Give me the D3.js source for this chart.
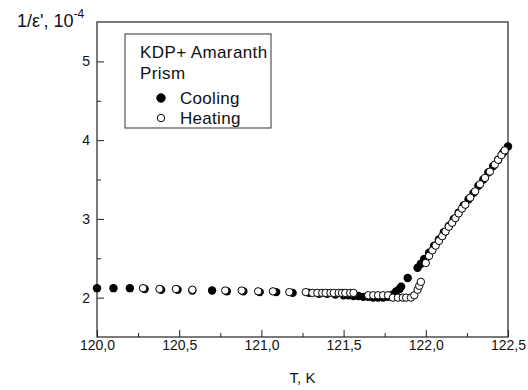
<!DOCTYPE html>
<html>
<head>
<meta charset="utf-8">
<script src="https://cdnjs.cloudflare.com/ajax/libs/d3/7.8.5/d3.min.js"></script>
<style>
  body { margin: 0; background: #fff; }
  svg { font-family: Arial, "Liberation Sans", sans-serif; }
</style>
</head>
<body>
<svg id="chart" width="528" height="390"></svg>
<script>
// cooling run (filled circles), T in K, 1/eps' in 1e-4
const coolT = [120.00, 120.10, 120.20, 120.29, 120.39, 120.49, 120.58, 120.70, 120.79, 120.89,
  120.99, 121.09, 121.19, 121.29, 121.35, 121.40, 121.45, 121.50, 121.53, 121.56,
  121.59, 121.62, 121.65, 121.68, 121.71, 121.74, 121.77, 121.80, 121.82, 121.84,
  121.85, 121.89, 121.95, 121.97, 121.99, 122.02, 122.05, 122.08, 122.11, 122.14,
  122.17, 122.20, 122.23, 122.26, 122.29, 122.32, 122.35, 122.38, 122.41, 122.44,
  122.47, 122.50];
const coolV = [2.12, 2.12, 2.12, 2.11, 2.10, 2.10, 2.09, 2.09, 2.08, 2.08,
  2.07, 2.07, 2.06, 2.06, 2.05, 2.05, 2.04, 2.03, 2.03, 2.02,
  2.02, 2.01, 2.01, 2.00, 2.00, 2.00, 2.01, 2.04, 2.08, 2.11,
  2.14, 2.25, 2.38, 2.43, 2.49, 2.57, 2.66, 2.74, 2.83, 2.91,
  3.00, 3.08, 3.17, 3.25, 3.33, 3.42, 3.50, 3.59, 3.67, 3.75,
  3.84, 3.92];

// heating run (open circles)
const heatT = [120.28, 120.38, 120.48, 120.58, 120.78, 120.88, 120.98, 121.07, 121.17, 121.27,
  121.31, 121.34, 121.37, 121.39, 121.42, 121.44, 121.47, 121.49, 121.51, 121.54,
  121.56, 121.65, 121.68, 121.71, 121.74, 121.77, 121.80, 121.83, 121.86, 121.88,
  121.91, 121.93, 121.95, 121.96, 121.97, 122.00, 122.02, 122.04, 122.06, 122.08,
  122.10, 122.12, 122.14, 122.16, 122.18, 122.20, 122.22, 122.24, 122.27, 122.30,
  122.33, 122.36, 122.39, 122.42, 122.44, 122.46, 122.48];
const heatV = [2.12, 2.11, 2.11, 2.10, 2.09, 2.09, 2.08, 2.08, 2.07, 2.07,
  2.06, 2.06, 2.06, 2.06, 2.06, 2.06, 2.06, 2.06, 2.06, 2.06,
  2.06, 2.03, 2.03, 2.03, 2.03, 2.03, 2.00, 2.00, 2.00, 2.00,
  2.00, 2.03, 2.10, 2.15, 2.20, 2.44, 2.53, 2.60, 2.66, 2.72,
  2.78, 2.84, 2.90, 2.95, 3.01, 3.07, 3.13, 3.18, 3.27, 3.35,
  3.44, 3.52, 3.60, 3.69, 3.75, 3.81, 3.87];

const xTicks = [120.0, 120.5, 121.0, 121.5, 122.0, 122.5];
const xMinor = [120.25, 120.75, 121.25, 121.75, 122.25];
const yTicks = [2, 3, 4, 5];
const yMinor = [2.5, 3.5, 4.5];

const legendTitle = ['KDP+ Amaranth', 'Prism'];
const legendItems = ['Cooling', 'Heating'];

const margin = {left: 97, top: 22, right: 20, bottom: 53};
const svg = d3.select('#chart');
const w = 528 - margin.left - margin.right;
const h = 390 - margin.top - margin.bottom;
const g = svg.append('g').attr('transform', `translate(${margin.left},${margin.top})`);

const x = d3.scaleLinear().domain([120, 122.5]).range([0, w]);
const y = d3.scaleLinear().domain([1.5, 5.5]).range([h, 0]);
const fmt = d => d3.format('.1f')(d).replace('.', ',');

// plot frame
g.append('rect').attr('width', w).attr('height', h)
  .attr('fill', 'none').attr('stroke', '#222').attr('stroke-width', 1.2);

g.append('g').attr('transform', `translate(0,${h})`)
  .call(d3.axisBottom(x).tickValues(xTicks).tickFormat(fmt).tickSize(-7).tickPadding(3));
g.append('g').attr('transform', `translate(0,${h})`)
  .call(d3.axisBottom(x).tickValues(xMinor).tickFormat('').tickSize(-4));
g.append('g')
  .call(d3.axisLeft(y).tickValues(yTicks).tickFormat(d3.format('d')).tickSize(-7).tickPadding(7));
g.append('g')
  .call(d3.axisLeft(y).tickValues(yMinor).tickFormat('').tickSize(-4));

g.selectAll('.domain').remove();
g.selectAll('.tick line').attr('stroke', '#222');
g.selectAll('.tick text').attr('font-size', 14).attr('fill', '#111')
  .attr('font-family', 'Arial, "Liberation Sans", sans-serif');

// data
const cool = coolT.map((t, i) => ({t, v: coolV[i]}));
const heat = heatT.map((t, i) => ({t, v: heatV[i]}));

g.selectAll('.cool').data(cool).enter().append('circle').classed('cool', true)
  .attr('cx', d => x(d.t)).attr('cy', d => y(d.v)).attr('r', 4.2)
  .attr('fill', '#000');
g.selectAll('.heat').data(heat).enter().append('circle').classed('heat', true)
  .attr('cx', d => x(d.t)).attr('cy', d => y(d.v)).attr('r', 3.7)
  .attr('fill', '#fff').attr('stroke', '#000').attr('stroke-width', 1);

// legend
const lg = g.append('g').attr('transform', 'translate(28,12)');
lg.append('rect').attr('width', 146).attr('height', 94)
  .attr('fill', '#fff').attr('stroke', '#333').attr('stroke-width', 1);
lg.selectAll('.ltitle').data(legendTitle).enter().append('text')
  .attr('x', 15).attr('y', (d, i) => 24 + i * 21)
  .attr('font-size', 17).attr('letter-spacing', 0.4).attr('fill', '#111').text(d => d);
const items = lg.selectAll('.litem').data(legendItems).enter().append('g')
  .attr('transform', (d, i) => `translate(0,${64 + i * 20})`);
items.append('circle').attr('cx', 36).attr('cy', 0).attr('r', (d, i) => i ? 3.7 : 4.2)
  .attr('fill', (d, i) => i ? '#fff' : '#000').attr('stroke', '#000');
items.append('text').attr('x', 55).attr('y', 6)
  .attr('font-size', 17).attr('letter-spacing', 0.3).attr('fill', '#111').text(d => d);

// axis titles
svg.append('text').attr('x', margin.left + w / 2).attr('y', 383)
  .attr('text-anchor', 'middle').attr('font-size', 15).attr('fill', '#111').text('T, K');
const yt = svg.append('text').attr('x', 17).attr('y', 27).attr('font-size', 18).attr('fill', '#111');
yt.append('tspan').text("1/\u03b5', 10");
yt.append('tspan').attr('dy', -9).attr('font-size', 12).text('-4');
</script>
</body>
</html>
